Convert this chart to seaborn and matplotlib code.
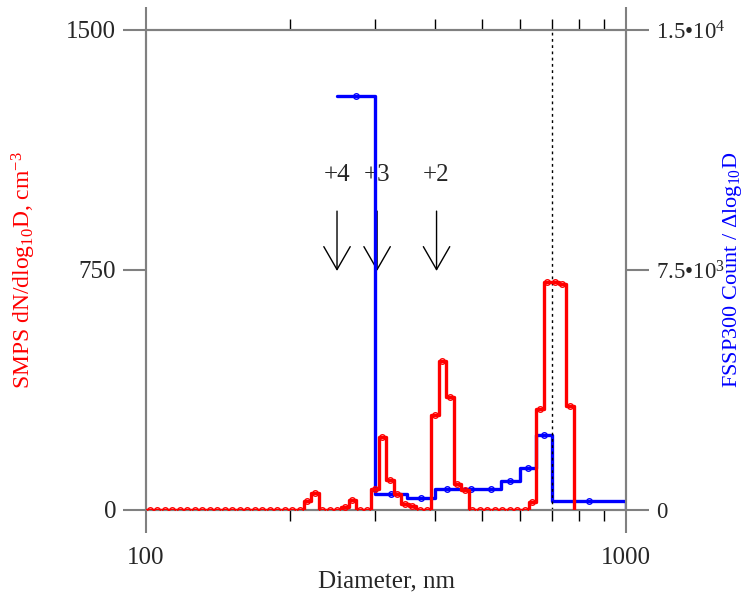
import numpy as np
import pandas as pd
import matplotlib
matplotlib.use("Agg")
import matplotlib.pyplot as plt
from matplotlib.ticker import FixedLocator, FixedFormatter, NullFormatter
import seaborn as sns

# ---------------- data ----------------
# SMPS: log-spaced channels, 64 per decade, first channel edge at 100 nm
smps_first_edge_nm = 100
smps_channels_per_decade = 64
smps_dndlogd = [0, 0, 0, 0, 0, 0, 0, 0, 0, 0,
                0, 0, 0, 0, 0, 0, 0, 0, 0, 0,
                0, 28, 53, 0, 0, 0, 10, 32, 0, 0,
                65, 229, 94, 51, 20, 14, 0, 0, 297, 467,
                352, 81, 63, 0, 0, 0, 0, 0, 0, 0,
                0, 26, 315, 713, 711, 705, 325]

# FSSP300 bins (edges in nm) and Count / dlog10 D
fssp_edges_nm = [250, 300, 350, 400, 450, 500, 550, 600, 650, 700, 1000]
fssp_counts = [12940, 490, 365, 656, 656, 656, 906, 1303, 2350, 285]

# charge-state annotations
charge_labels = ["+4", "+3", "+2"]
charge_diam_nm = [250, 303, 403]

x_major_ticks = [100, 1000]
x_major_labels = ["100", "1000"]
x_minor_ticks = [200, 300, 400, 500, 600, 700, 800, 900]
left_ticks = [0, 750, 1500]
left_labels = ["0", "750", "1500"]
right_ticks = [0, 7500, 15000]
right_labels = ["0", "7.5\u202210$^{3}$", "1.5\u202210$^{4}$"]
cutoff_nm = 700

# ---------------- derived tables ----------------
n = len(smps_dndlogd)
smps_edges = smps_first_edge_nm * 10 ** (np.arange(n + 1) / smps_channels_per_decade)
smps_centers = np.sqrt(smps_edges[:-1] * smps_edges[1:])
smps_step = pd.DataFrame({"d": smps_edges, "v": list(smps_dndlogd) + [0]})
smps_pts = pd.DataFrame({"d": smps_centers, "v": smps_dndlogd})

fe = np.array(fssp_edges_nm, dtype=float)
fssp_step = pd.DataFrame({"d": fe, "v": list(fssp_counts) + [0]})
fssp_pts = pd.DataFrame({"d": np.sqrt(fe[:-1] * fe[1:]), "v": fssp_counts})

# ---------------- style ----------------
sns.set_style("ticks")
plt.rcParams["font.family"] = ["Liberation Serif", "DejaVu Serif"]
plt.rcParams["mathtext.fontset"] = "custom"
plt.rcParams["mathtext.rm"] = "Liberation Serif"
plt.rcParams["mathtext.it"] = "Liberation Serif:italic"
plt.rcParams["mathtext.bf"] = "Liberation Serif:bold"

GREY = "#808080"
FS = 18
FS_LAB = 17
FS_RLAB = 16
FS_RIGHT = 16.5

fig = plt.figure(figsize=(7.46, 5.98), dpi=100)
ax = fig.add_axes([146 / 746, 88 / 598, 480 / 746, 480 / 598])
ax2 = ax.twinx()
ax.set_zorder(ax2.get_zorder() + 1)
ax.patch.set_visible(False)

# blue FSSP on right axis
sns.lineplot(data=fssp_step, x="d", y="v", ax=ax2, color="#0000ff", lw=2.4,
             drawstyle="steps-post", estimator=None, sort=False, zorder=3)
sns.lineplot(data=fssp_pts, x="d", y="v", ax=ax2, color="#0000ff", linestyle="",
             marker="o", markersize=4, markerfacecolor="none",
             markeredgecolor="#0000ff", markeredgewidth=1, estimator=None, zorder=4)

# red SMPS on left axis
sns.lineplot(data=smps_step, x="d", y="v", ax=ax, color="#ff0000", lw=2.4,
             drawstyle="steps-post", estimator=None, sort=False, zorder=3)
sns.lineplot(data=smps_pts, x="d", y="v", ax=ax, color="#ff0000", linestyle="",
             marker="o", markersize=4, markerfacecolor="none",
             markeredgecolor="#ff0000", markeredgewidth=1, estimator=None, zorder=4)

ax.axvline(cutoff_nm, color="black", lw=1, ls=(0, (2, 2.5)), zorder=2)

# axes
ax.set_xscale("log")
ax.set_xlim(100, 1000)
ax.set_ylim(0, 1500)
ax2.set_ylim(0, 15000)

ax.xaxis.set_major_locator(FixedLocator(x_major_ticks))
ax.xaxis.set_major_formatter(FixedFormatter(x_major_labels))
ax.xaxis.set_minor_locator(FixedLocator(x_minor_ticks))
ax.xaxis.set_minor_formatter(NullFormatter())
ax.yaxis.set_major_locator(FixedLocator(left_ticks))
ax.yaxis.set_major_formatter(FixedFormatter(left_labels))
ax.yaxis.set_minor_locator(FixedLocator([]))
ax2.yaxis.set_major_locator(FixedLocator(right_ticks))
ax2.yaxis.set_major_formatter(FixedFormatter(right_labels))
ax2.yaxis.set_minor_locator(FixedLocator([]))

ax.tick_params(axis="x", which="major", direction="out", length=16.5, width=1.5,
               color=GREY, top=True, bottom=True, labeltop=False,
               labelsize=FS, pad=10)
ax.tick_params(axis="x", which="minor", direction="out", length=8, width=1,
               color="black", top=True, bottom=True)
ax.tick_params(axis="y", which="major", direction="out", length=16.5, width=1.5,
               color=GREY, left=True, right=False, labelsize=FS, pad=5)
ax2.tick_params(axis="y", which="major", direction="out", length=16.5, width=1.5,
                color=GREY, left=False, right=True, labelsize=FS_RIGHT, pad=5)

for a in (ax, ax2):
    for s in a.spines.values():
        s.set_color(GREY)
        s.set_linewidth(1.5)
        s.set_visible(True)

ax.set_xlabel("Diameter, nm", fontsize=FS)
ax.xaxis.set_label_coords(0.5, -0.126)
ax.set_ylabel("SMPS dN/dlog$_{10}$D, cm$^{-3}$", fontsize=FS_LAB, color="#ff0000")
ax.yaxis.set_label_coords(-0.226, 0.5)
ax2.set_ylabel("FSSP300 Count / \u0394log$_{10}$D", fontsize=FS_RLAB, color="#0000ff")
ax2.yaxis.set_label_coords(1.197, 0.5)

# charge-state arrows (placed in left-axis data units, drawn beneath the blue line)
for lab, d in zip(charge_labels, charge_diam_nm):
    ax2.annotate("", xy=(d, 747), xytext=(d, 934), xycoords=ax.transData,
                 textcoords=ax.transData,
                 arrowprops=dict(arrowstyle="->, head_length=1.65, head_width=0.95",
                                 lw=1, color="black", shrinkA=0, shrinkB=0,
                                 mutation_scale=10),
                 zorder=1)
    ax2.text(d, 1047, lab, transform=ax.transData, ha="center", va="center",
             fontsize=FS, zorder=1)

fig.savefig("out.png", dpi=100)
